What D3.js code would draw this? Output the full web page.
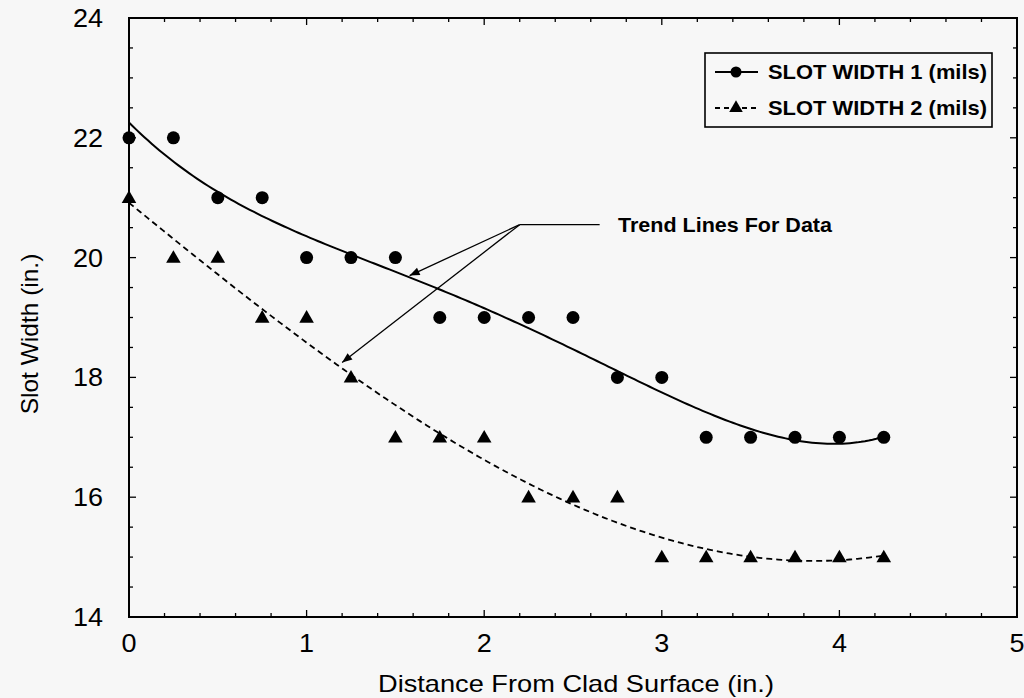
<!DOCTYPE html>
<html>
<head>
<meta charset="utf-8">
<script src="https://cdn.jsdelivr.net/npm/d3@7"></script>
<style>
  html, body { margin: 0; padding: 0; background: #f7f7f7; }
  svg { display: block; }
  text { font-family: "Liberation Sans", Arial, Helvetica, sans-serif; fill: #000; }
</style>
</head>
<body>
<svg id="chart" width="1024" height="698"></svg>
<script>
// Measurements along the slot: distance from the clad surface (in.)
const distance = [0, 0.25, 0.5, 0.75, 1, 1.25, 1.5, 1.75, 2, 2.25, 2.5, 2.75, 3, 3.25, 3.5, 3.75, 4, 4.25];
const slotWidth1 = [22, 22, 21, 21, 20, 20, 20, 19, 19, 19, 19, 18, 18, 17, 17, 17, 17, 17];
const slotWidth2 = [21, 20, 20, 19, 19, 18, 17, 17, 17, 16, 16, 16, 15, 15, 15, 15, 15, 15];
const seriesNames = ["SLOT WIDTH 1 (mils)", "SLOT WIDTH 2 (mils)"];
const xTicks = [0, 1, 2, 3, 4, 5];
const yTicks = [14, 16, 18, 20, 22, 24];
const annotationText = "Trend Lines For Data";

const svg = d3.select("#chart");
const L = 129, T = 18, R = 1017, B = 617;

const x = d3.scaleLinear().domain([0, 5]).range([L, R]);
const y = d3.scaleLinear().domain([14, 24]).range([B, T]);

// Least-squares polynomial fit (normal equations, Gaussian elimination)
function polyFit(xs, ys, deg) {
  const n = deg + 1;
  const A = Array.from({length: n}, () => new Array(n + 1).fill(0));
  for (let k = 0; k < xs.length; k++) {
    for (let i = 0; i < n; i++) {
      for (let j = 0; j < n; j++) A[i][j] += Math.pow(xs[k], i + j);
      A[i][n] += ys[k] * Math.pow(xs[k], i);
    }
  }
  for (let c = 0; c < n; c++) {
    let p = c;
    for (let r = c + 1; r < n; r++) if (Math.abs(A[r][c]) > Math.abs(A[p][c])) p = r;
    [A[c], A[p]] = [A[p], A[c]];
    for (let r = 0; r < n; r++) {
      if (r === c) continue;
      const f = A[r][c] / A[c][c];
      for (let j = c; j <= n; j++) A[r][j] -= f * A[c][j];
    }
  }
  const coef = A.map((row, i) => row[n] / row[i]);
  return xv => coef.reduce((s, a, i) => s + a * Math.pow(xv, i), 0);
}

const fit1 = polyFit(distance, slotWidth1, 4);
const fit2 = polyFit(distance, slotWidth2, 4);
const xMax = d3.max(distance);
const samples = d3.range(0, 201).map(i => i / 200 * xMax);

// Frame
svg.append("rect").attr("x", L).attr("y", T).attr("width", R - L).attr("height", B - T)
  .attr("fill", "none").attr("stroke", "#000").attr("stroke-width", 2);

// Ticks pointing inward on all four sides
const xMinor = d3.range(0, 5.0001, 0.2).filter(v => Math.abs(v - Math.round(v)) > 1e-6);
const yMinor = d3.range(14, 24.0001, 0.5).filter(v => Math.abs(v / 2 - Math.round(v / 2)) > 1e-6);
const tickG = svg.append("g").attr("stroke", "#000").attr("stroke-width", 1.3);
xTicks.forEach(v => {
  tickG.append("line").attr("x1", x(v)).attr("x2", x(v)).attr("y1", B).attr("y2", B - 7);
  tickG.append("line").attr("x1", x(v)).attr("x2", x(v)).attr("y1", T).attr("y2", T + 7);
});
xMinor.forEach(v => {
  tickG.append("line").attr("x1", x(v)).attr("x2", x(v)).attr("y1", B).attr("y2", B - 4);
  tickG.append("line").attr("x1", x(v)).attr("x2", x(v)).attr("y1", T).attr("y2", T + 4);
});
yTicks.forEach(v => {
  tickG.append("line").attr("x1", L).attr("x2", L + 7).attr("y1", y(v)).attr("y2", y(v));
  tickG.append("line").attr("x1", R).attr("x2", R - 7).attr("y1", y(v)).attr("y2", y(v));
});
yMinor.forEach(v => {
  tickG.append("line").attr("x1", L).attr("x2", L + 4).attr("y1", y(v)).attr("y2", y(v));
  tickG.append("line").attr("x1", R).attr("x2", R - 4).attr("y1", y(v)).attr("y2", y(v));
});

// Tick labels (slightly widened glyphs)
svg.append("g").selectAll("text").data(xTicks).join("text")
  .attr("transform", d => `translate(${x(d)},${B + 35}) scale(1.08,1)`)
  .attr("text-anchor", "middle").style("font-size", "25px").text(d => d);
svg.append("g").selectAll("text").data(yTicks).join("text")
  .attr("transform", d => `translate(103,${y(d) + 9}) scale(1.08,1)`)
  .attr("text-anchor", "end").style("font-size", "25px").text(d => d);

// Axis titles
svg.append("text").attr("x", 576).attr("y", 692).attr("text-anchor", "middle")
  .attr("textLength", 396).attr("lengthAdjust", "spacingAndGlyphs")
  .style("font-size", "24px").text("Distance From Clad Surface (in.)");
svg.append("text").attr("transform", "translate(38,334) rotate(-90)")
  .attr("text-anchor", "middle").style("font-size", "24.5px").text("Slot Width (in.)");

// Trend lines
const line = d3.line().x(d => x(d[0])).y(d => y(d[1]));
svg.append("path").datum(samples.map(v => [v, fit1(v)])).attr("d", line)
  .attr("fill", "none").attr("stroke", "#000").attr("stroke-width", 2);
svg.append("path").datum(samples.map(v => [v, fit2(v)])).attr("d", line)
  .attr("fill", "none").attr("stroke", "#000").attr("stroke-width", 1.8)
  .attr("stroke-dasharray", "6,4");

// Markers
const tri = d3.symbol().type(d3.symbolTriangle).size(92);
svg.append("g").selectAll("circle").data(distance).join("circle")
  .attr("cx", d => x(d)).attr("cy", (d, i) => y(slotWidth1[i])).attr("r", 6.5).attr("fill", "#000");
svg.append("g").selectAll("path").data(distance).join("path")
  .attr("d", tri).attr("transform", (d, i) => `translate(${x(d)},${y(slotWidth2[i]) + 1})`)
  .attr("fill", "#000");

// Annotation with arrows pointing at both trend lines
const defs = svg.append("defs");
defs.append("marker").attr("id", "arrow").attr("viewBox", "0 0 10 10")
  .attr("refX", 10).attr("refY", 5).attr("markerWidth", 14).attr("markerHeight", 10)
  .attr("markerUnits", "userSpaceOnUse").attr("orient", "auto")
  .append("path").attr("d", "M0,1 L10,5 L0,9 Z").attr("fill", "#000");
const ann = svg.append("g").attr("stroke", "#000").attr("stroke-width", 1.3).attr("fill", "none");
const hub = [x(2.2), y(20.55)];
ann.append("line").attr("x1", x(2.65)).attr("y1", hub[1]).attr("x2", hub[0]).attr("y2", hub[1]);
ann.append("line").attr("x1", hub[0]).attr("y1", hub[1])
  .attr("x2", x(1.58)).attr("y2", y(19.7)).attr("marker-end", "url(#arrow)");
ann.append("line").attr("x1", hub[0]).attr("y1", hub[1])
  .attr("x2", x(1.2)).attr("y2", y(18.25)).attr("marker-end", "url(#arrow)");
svg.append("text").attr("x", 618).attr("y", 232)
  .attr("textLength", 214).attr("lengthAdjust", "spacingAndGlyphs")
  .style("font-size", "21px").style("font-weight", "bold").text(annotationText);

// Legend
const lg = svg.append("g");
lg.append("rect").attr("x", 705).attr("y", 53).attr("width", 287).attr("height", 74)
  .attr("fill", "#f7f7f7").attr("stroke", "#000").attr("stroke-width", 1.6);
const legendRows = [
  {name: seriesNames[0], dash: null, sym: "circle", yy: 72},
  {name: seriesNames[1], dash: "5,4", sym: "triangle", yy: 108}
];
legendRows.forEach(r => {
  lg.append("line").attr("x1", 715).attr("x2", 758).attr("y1", r.yy).attr("y2", r.yy)
    .attr("stroke", "#000").attr("stroke-width", 1.8).attr("stroke-dasharray", r.dash);
  if (r.sym === "circle") {
    lg.append("circle").attr("cx", 736).attr("cy", r.yy).attr("r", 5.5).attr("fill", "#000");
  } else {
    lg.append("path").attr("d", d3.symbol().type(d3.symbolTriangle).size(80))
      .attr("transform", `translate(736,${r.yy})`).attr("fill", "#000");
  }
  lg.append("text").attr("x", 768).attr("y", r.yy + 7)
    .attr("textLength", 219).attr("lengthAdjust", "spacingAndGlyphs")
    .style("font-size", "21px").style("font-weight", "bold").text(r.name);
});
</script>
</body>
</html>
